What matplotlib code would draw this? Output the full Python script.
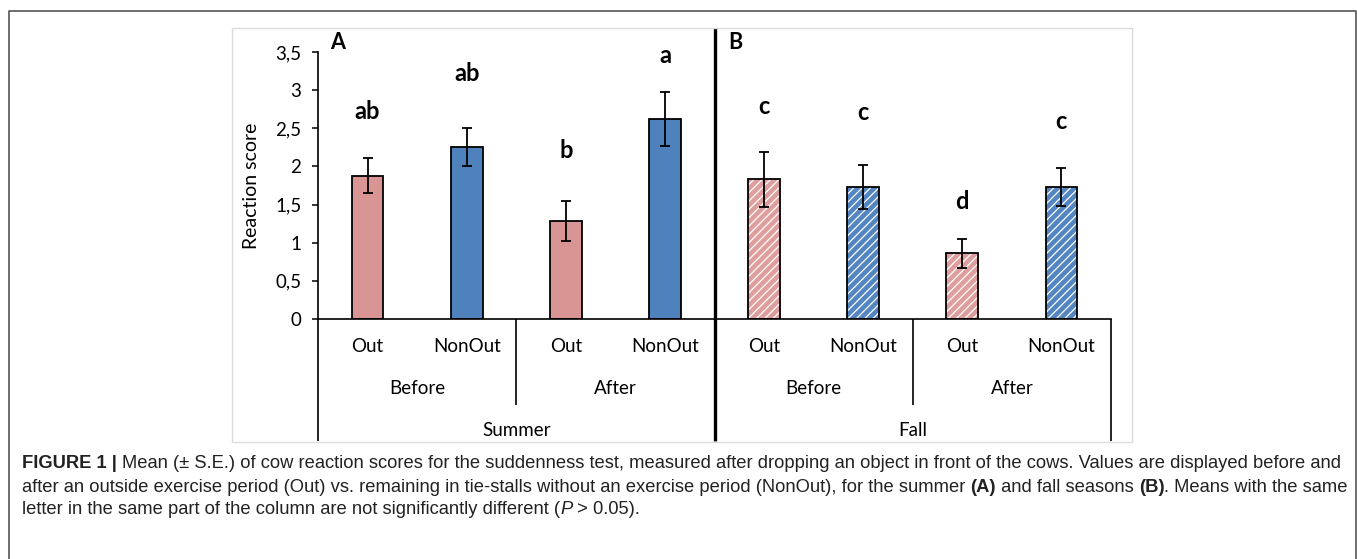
import matplotlib
matplotlib.use("Agg")
import matplotlib.pyplot as plt
from matplotlib.lines import Line2D
from matplotlib.patches import Rectangle
from matplotlib.transforms import blended_transform_factory
import numpy as np

# ---------------- data ----------------
groups = ["Out", "NonOut", "Out", "NonOut"]
periods = ["Before", "After"]
seasons = ["Summer", "Fall"]
summer_means = [1.88, 2.25, 1.285, 2.62]
summer_se = [0.225, 0.25, 0.265, 0.355]
fall_means = [1.83, 1.73, 0.86, 1.73]
fall_se = [0.36, 0.285, 0.195, 0.255]
summer_letters = ["ab", "ab", "b", "a"]
summer_letter_y = [2.72, 3.22, 2.21, 3.46]
fall_letters = ["c", "c", "d", "c"]
fall_letter_y = [2.79, 2.71, 1.54, 2.59]
yticks = [0, 0.5, 1, 1.5, 2, 2.5, 3, 3.5]
ytick_labels = ["0", "0,5", "1", "1,5", "2", "2,5", "3", "3,5"]
panel_labels = ["A", "B"]
ylabel = "Reaction score"

W, H = 1357, 559
DPI = 100
CHART_FONT = ["Lato", "DejaVu Sans"]
CAP_FONT = ["Liberation Sans", "DejaVu Sans"]
PINK = "#D99594"
BLUE = "#4F81BD"
PINK_H = "#DE9E9D"
BLUE_H = "#5385C2"

plt.rcParams["hatch.linewidth"] = 0.9

fig = plt.figure(figsize=(W / DPI, H / DPI), dpi=DPI)


def fx(px):
    return px / W


def fy(py):
    return 1 - py / H


ax_left, ax_right, ax_top, ax_bot = 318, 1111, 52, 319
ax = fig.add_axes([fx(ax_left), fy(ax_bot), fx(ax_right - ax_left), fy(ax_top) - fy(ax_bot)])
ax.set_xlim(-0.5, 7.5)
ax.set_ylim(0, 3.5)

x_summer = np.arange(4)
x_fall = np.arange(4, 8)
colors = [PINK, BLUE, PINK, BLUE]
hcolors = [PINK_H, BLUE_H, PINK_H, BLUE_H]
bw = 0.32

# summer bars (solid)
ax.bar(x_summer, summer_means, width=bw, color=colors, edgecolor="black", linewidth=1.3, zorder=2)
# fall bars (hatched)
for xi, m, c in zip(x_fall, fall_means, hcolors):
    ax.bar(xi, m, width=bw, color=c, edgecolor="white", hatch="////", linewidth=0, zorder=2)
    ax.bar(xi, m, width=bw, fill=False, edgecolor="black", linewidth=1.3, zorder=3)

err_kw = dict(fmt="none", ecolor="black", elinewidth=1.3, capsize=3.6, capthick=1.3, zorder=4)
ax.errorbar(x_summer, summer_means, yerr=summer_se, **err_kw)
ax.errorbar(x_fall, fall_means, yerr=fall_se, **err_kw)

LET_SIZE = 17
for xi, t, yv in zip(x_summer, summer_letters, summer_letter_y):
    ax.text(xi, yv, t, ha="center", va="center", fontsize=LET_SIZE, fontweight="bold", family=CHART_FONT)
for xi, t, yv in zip(x_fall, fall_letters, fall_letter_y):
    ax.text(xi, yv, t, ha="center", va="center", fontsize=LET_SIZE, fontweight="bold", family=CHART_FONT)

# axes styling
for s in ["top", "right"]:
    ax.spines[s].set_visible(False)
ax.spines["left"].set_linewidth(1.2)
ax.spines["bottom"].set_linewidth(1.2)
ax.set_yticks(yticks)
ax.set_yticklabels(ytick_labels, family=CHART_FONT, fontsize=13.5)
ax.tick_params(axis="y", direction="out", length=4, width=1.1, pad=8)
ax.set_xticks([])
ax.set_ylabel(ylabel, family=CHART_FONT, fontsize=14, labelpad=11)

# panel labels
ax.text(-0.30, 3.62, panel_labels[0], ha="center", va="center", fontsize=15.5, fontweight="bold",
        family=CHART_FONT, clip_on=False)
ax.text(3.71, 3.62, panel_labels[1], ha="center", va="center", fontsize=15.5, fontweight="bold",
        family=CHART_FONT, clip_on=False)

# hierarchical category axis
bt = blended_transform_factory(ax.transData, fig.transFigure)
CAT_SIZE = 13.5
for i, g in enumerate(groups + groups):
    ax.text(i, fy(347), g, transform=bt, ha="center", va="center",
            fontsize=CAT_SIZE, family=CHART_FONT, clip_on=False)
for j in range(4):
    ax.text(2 * j + 0.5, fy(389), periods[j % 2], transform=bt, ha="center", va="center",
            fontsize=CAT_SIZE, family=CHART_FONT, clip_on=False)
for k in range(2):
    ax.text(4 * k + 1.5, fy(431), seasons[k], transform=bt, ha="center", va="center",
            fontsize=CAT_SIZE, family=CHART_FONT, clip_on=False)


def vline(xd, y0px, y1px, lw):
    ax.add_line(Line2D([xd, xd], [fy(y0px), fy(y1px)], transform=bt, color="black", lw=lw,
                       clip_on=False, zorder=5, solid_capstyle="butt"))


vline(-0.5, ax_bot, 441, 1.2)
vline(7.5, ax_bot, 441, 1.2)
vline(1.5, ax_bot, 405, 1.2)
vline(5.5, ax_bot, 405, 1.2)
vline(3.5, 28, 441, 2.4)

# embedded image frame (light gray)
fig.add_artist(Rectangle((fx(232), fy(442)), fx(1132 - 232), fy(28) - fy(442), transform=fig.transFigure,
                         fill=False, edgecolor="#dcdcdc", lw=1.0))
# outer frame
fig.add_artist(Line2D([fx(8.5), fx(8.5), fx(1355.5), fx(1355.5)], [0, fy(10.5), fy(10.5), 0],
                      transform=fig.transFigure, color="#555555", lw=1.2))

# caption with mixed styles
renderer = fig.canvas.get_renderer()
CAP_SIZE = 13.25


def draw_segments(x_px, y_px, segs):
    x = fx(x_px)
    for txt, wt, st in segs:
        t = fig.text(x, fy(y_px), txt, ha="left", va="center", fontsize=CAP_SIZE, family=CAP_FONT,
                     fontweight=wt, fontstyle=st, color="#222222")
        bb = t.get_window_extent(renderer=renderer)
        x += bb.width / W


draw_segments(22, 464, [
    ("FIGURE 1 | ", "bold", "normal"),
    ("Mean (\u00b1 S.E.) of cow reaction scores for the suddenness test, measured after dropping an object in front of the cows. Values are displayed before and",
     "normal", "normal"),
])
draw_segments(22, 487, [
    ("after an outside exercise period (Out) vs. remaining in tie-stalls without an exercise period (NonOut), for the summer ",
     "normal", "normal"),
    ("(A)", "bold", "normal"),
    (" and fall seasons ", "normal", "normal"),
    ("(B)", "bold", "normal"),
    (". Means with the same", "normal", "normal"),
])
draw_segments(22, 510, [
    ("letter in the same part of the column are not significantly different (", "normal", "normal"),
    ("P", "normal", "italic"),
    (" > 0.05).", "normal", "normal"),
])

fig.savefig("out.png", dpi=DPI)
